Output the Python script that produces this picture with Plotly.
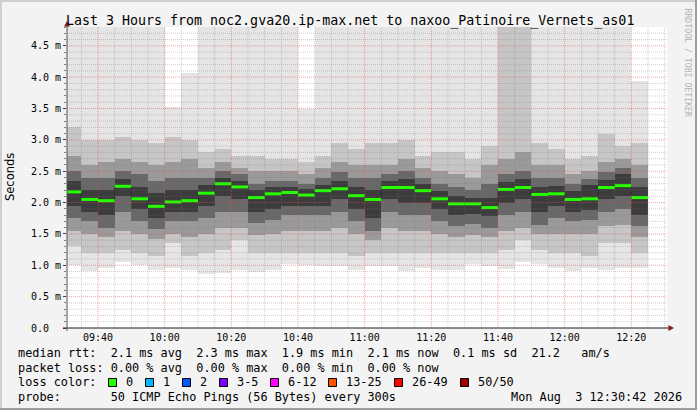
import pandas as pd
import plotly.graph_objects as go

# ---------------- data ----------------
first_end = "2026-08-03 09:35:00"   # end of the first 300 s step
x_start = "2026-08-03 09:30:42"
x_end = "2026-08-03 12:30:42"

medians = [2.17, 2.05, 2.03, 2.26, 2.06, 1.94, 2.01, 2.03, 2.15, 2.30, 2.25, 2.08,
           2.14, 2.16, 2.12, 2.19, 2.22, 2.11, 2.05, 2.24, 2.24, 2.19, 2.06, 1.98,
           1.98, 1.92, 2.21, 2.24, 2.13, 2.14, 2.05, 2.06, 2.24, 2.27, 2.08]
ping_min = [1.00, 0.91, 0.96, 1.06, 1.00, 0.93, 0.96, 0.93, 0.86, 0.87, 0.93, 0.90,
            0.93, 1.02, 1.00, 0.99, 0.99, 0.93, 0.99, 0.99, 0.91, 0.95, 0.93, 0.93,
            1.02, 0.99, 0.94, 1.05, 1.02, 0.96, 0.91, 0.95, 0.93, 0.95, 0.95]
ping_max = [5.5, 5.5, 5.5, 5.5, 5.5, 5.5, 3.53, 4.06, 5.5, 5.5, 5.5, 5.5,
            5.5, 5.5, 3.49, 5.5, 5.5, 5.5, 5.5, 5.5, 5.5, 5.5, 5.5, 5.5,
            5.5, 5.5, 5.5, 5.5, 5.5, 5.5, 5.5, 5.5, 5.5, 5.5, 3.94]
lo5 = [1.30, 1.20, 1.20, 1.25, 1.20, 1.15, 1.35, 1.15, 1.20, 1.25, 1.40, 1.20,
       1.20, 1.20, 1.20, 1.20, 1.20, 1.15, 1.20, 1.20, 1.20, 1.20, 1.20, 1.20,
       1.20, 1.20, 1.25, 1.40, 1.25, 1.20, 1.20, 1.15, 1.35, 1.35, 1.20]
hi5 = [3.20, 3.00, 3.00, 3.05, 3.00, 2.95, 3.05, 3.00, 2.80, 2.85, 2.75, 2.75,
       2.70, 2.70, 2.65, 2.75, 2.95, 2.85, 2.95, 2.95, 3.00, 2.75, 2.80, 2.80,
       2.70, 2.90, 5.50, 5.50, 2.95, 2.85, 2.70, 2.75, 3.10, 2.90, 2.95]
lo10 = [1.55, 1.50, 1.45, 1.55, 1.50, 1.42, 1.50, 1.45, 1.50, 1.60, 1.60, 1.48,
        1.50, 1.55, 1.55, 1.55, 1.60, 1.50, 1.40, 1.60, 1.55, 1.55, 1.50, 1.45,
        1.48, 1.45, 1.55, 1.60, 1.50, 1.50, 1.50, 1.50, 1.62, 1.65, 1.45]
hi10 = [2.75, 2.60, 2.65, 2.70, 2.65, 2.60, 2.65, 2.70, 2.55, 2.65, 2.55, 2.50,
        2.50, 2.50, 2.45, 2.55, 2.65, 2.60, 2.60, 2.60, 2.70, 2.55, 2.50, 2.45,
        2.40, 2.60, 2.70, 2.80, 2.60, 2.60, 2.45, 2.50, 2.65, 2.70, 2.60]
lo15 = [1.75, 1.70, 1.60, 1.85, 1.70, 1.58, 1.70, 1.70, 1.75, 1.85, 1.85, 1.68,
        1.72, 1.80, 1.80, 1.80, 1.85, 1.70, 1.55, 1.85, 1.80, 1.80, 1.70, 1.62,
        1.66, 1.60, 1.80, 1.85, 1.65, 1.75, 1.70, 1.72, 1.85, 1.90, 1.62]
hi15 = [2.50, 2.40, 2.40, 2.50, 2.45, 2.35, 2.40, 2.40, 2.40, 2.50, 2.45, 2.30,
        2.35, 2.35, 2.30, 2.40, 2.48, 2.40, 2.40, 2.45, 2.50, 2.40, 2.30, 2.25,
        2.20, 2.30, 2.45, 2.50, 2.40, 2.40, 2.30, 2.38, 2.48, 2.55, 2.40]
lo20 = [1.95, 1.85, 1.80, 2.10, 1.90, 1.75, 1.85, 1.85, 1.95, 2.10, 2.05, 1.85,
        1.90, 1.95, 1.95, 1.95, 2.05, 1.90, 1.75, 2.05, 2.00, 2.00, 1.90, 1.80,
        1.82, 1.78, 2.00, 2.05, 1.85, 1.95, 1.85, 1.88, 2.05, 2.10, 1.80]
hi20 = [2.35, 2.20, 2.20, 2.38, 2.25, 2.15, 2.20, 2.20, 2.28, 2.40, 2.35, 2.20,
        2.25, 2.25, 2.22, 2.28, 2.35, 2.25, 2.20, 2.35, 2.38, 2.30, 2.18, 2.10,
        2.08, 2.08, 2.33, 2.38, 2.25, 2.27, 2.18, 2.28, 2.36, 2.45, 2.25]

y_tickvals = [0.0, 0.5, 1.0, 1.5, 2.0, 2.5, 3.0, 3.5, 4.0, 4.5]
y_ticktext = ["0.0  ", "0.5 m", "1.0 m", "1.5 m", "2.0 m", "2.5 m", "3.0 m",
              "3.5 m", "4.0 m", "4.5 m"]

title_text = "Last 3 Hours from noc2.gva20.ip-max.net to naxoo_Patinoire_Vernets_as01"
legend_lines = [
    "median rtt:  2.1 ms avg  2.3 ms max  1.9 ms min  2.1 ms now  0.1 ms sd  21.2   am/s",
    "packet loss: 0.00 % avg  0.00 % max  0.00 % min  0.00 % now",
    "loss color:",
    "probe:       50 ICMP Echo Pings (56 Bytes) every 300s",
]
loss_labels = ["0", "1", "2", "3-5", "6-12", "13-25", "26-49", "50/50"]
loss_colors = ["#26ff00", "#00b8ff", "#0059ff", "#7e00ff", "#ff00ff",
               "#ff5500", "#ff0000", "#a10000"]
stamp_text = "Mon Aug  3 12:30:42 2026"
watermark = "RRDTOOL / TOBI OETIKER"

# ---------------- geometry ----------------
W, H = 697, 410
PL, PR, PT, PB = 67, 667, 27, 328
MONO = "DejaVu Sans Mono"


def PX(x):
    return (x - PL) / (PR - PL)


def PY(y):
    return (PB - y) / (PB - PT)


def nb(s):
    return s.replace(" ", "\u00a0")


ends = pd.date_range(first_end, periods=len(medians), freq="5min")
starts = ends - pd.Timedelta(seconds=300)
centers = ends - pd.Timedelta(seconds=150)

fig = go.Figure()

bands = [
    (ping_min, ping_max, "#e5e5e5"),
    (lo5, hi5, "#c6c6c6"),
    (lo10, hi10, "#9a9a9a"),
    (lo15, hi15, "#686868"),
    (lo20, hi20, "#3c3c3c"),
]
for lo, hi, col in bands:
    fig.add_trace(go.Bar(
        x=centers, base=lo, y=[h - l for l, h in zip(lo, hi)],
        width=300000, marker=dict(color=col, line=dict(width=0)),
        showlegend=False, hoverinfo="skip"))

# dark step line of the median
fig.add_trace(go.Scatter(
    x=list(starts) + [ends[-1]], y=medians + [medians[-1]],
    mode="lines", line=dict(color="#202020", width=1, shape="hv"),
    showlegend=False, hoverinfo="skip"))

# green (0 loss) median segments
gx, gy = [], []
for s, e, m in zip(starts, ends, medians):
    gx += [s, e, None]
    gy += [m, m, None]
fig.add_trace(go.Scatter(
    x=gx, y=gy, mode="lines", line=dict(color=loss_colors[0], width=3),
    showlegend=False, hoverinfo="skip"))

shapes = []
# grid (rrdtool draws it over the data)
grid_times = pd.date_range("2026-08-03 09:35:00", "2026-08-03 12:30:00", freq="5min")
for t in grid_times:
    major = (t.minute % 20 == 0)
    shapes.append(dict(type="line", xref="x", yref="paper", x0=t, x1=t, y0=0, y1=1,
                       layer="above",
                       line=dict(color="rgba(222,80,80,0.5)" if major else "rgba(120,120,120,0.35)",
                                 width=1, dash="1px,1px")))
for i in range(1, 48):
    v = round(i / 10, 1)
    major = (i % 5 == 0)
    shapes.append(dict(type="line", xref="paper", yref="y", x0=0, x1=1, y0=v, y1=v,
                       layer="above",
                       line=dict(color="rgba(222,80,80,0.5)" if major else "rgba(120,120,120,0.35)",
                                 width=1, dash="1px,1px")))

# axes lines and arrows
shapes.append(dict(type="line", xref="paper", yref="paper", x0=PX(63), x1=PX(671),
                   y0=PY(328), y1=PY(328), layer="above", line=dict(color="#1f1f1f", width=1)))
shapes.append(dict(type="line", xref="paper", yref="paper", x0=PX(67), x1=PX(67),
                   y0=PY(331), y1=PY(24), layer="above", line=dict(color="#555555", width=1)))
shapes.append(dict(type="path", xref="paper", yref="paper", layer="above",
                   path=f"M {PX(64)} {PY(26.5)} L {PX(70)} {PY(26.5)} L {PX(67)} {PY(21)} Z",
                   fillcolor="#7f1f1f", line=dict(width=0)))
shapes.append(dict(type="path", xref="paper", yref="paper", layer="above",
                   path=f"M {PX(668.5)} {PY(325)} L {PX(668.5)} {PY(331)} L {PX(674)} {PY(328)} Z",
                   fillcolor="#7f1f1f", line=dict(width=0)))

# outer 3D frame
shapes.append(dict(type="rect", xref="paper", yref="paper", x0=PX(0), x1=PX(697),
                   y0=PY(0), y1=PY(2), fillcolor="#cfcfcf", line=dict(width=0), layer="below"))
shapes.append(dict(type="rect", xref="paper", yref="paper", x0=PX(0), x1=PX(2),
                   y0=PY(0), y1=PY(410), fillcolor="#cfcfcf", line=dict(width=0), layer="below"))
shapes.append(dict(type="rect", xref="paper", yref="paper", x0=PX(0), x1=PX(697),
                   y0=PY(408), y1=PY(410), fillcolor="#9e9e9e", line=dict(width=0), layer="below"))
shapes.append(dict(type="rect", xref="paper", yref="paper", x0=PX(695), x1=PX(697),
                   y0=PY(0), y1=PY(410), fillcolor="#9e9e9e", line=dict(width=0), layer="below"))

# loss colour legend squares
sq_x = [108, 145, 182, 219, 270, 328, 394, 460]
annotations = []
for x0, lab, col in zip(sq_x, loss_labels, loss_colors):
    shapes.append(dict(type="rect", xref="paper", yref="paper",
                       x0=PX(x0 + 0.5), x1=PX(x0 + 8.5), y0=PY(378.5), y1=PY(386.5),
                       fillcolor=col, line=dict(color="#000000", width=1)))
    annotations.append(dict(x=PX(x0 + 15.5), y=PY(382), xref="paper", yref="paper",
                            text=nb(lab), showarrow=False, xanchor="left", yanchor="middle",
                            font=dict(family=MONO, size=11.85, color="#000000")))

# text
annotations.append(dict(x=PX(64), y=PY(21.5), xref="paper", yref="paper", text=nb(title_text),
                        showarrow=False, xanchor="left", yanchor="middle",
                        font=dict(family=MONO, size=13.3, color="#000000")))
for yy, line in zip([353, 368, 382, 397], legend_lines):
    annotations.append(dict(x=PX(16), y=PY(yy), xref="paper", yref="paper", text=nb(line),
                            showarrow=False, xanchor="left", yanchor="middle",
                            font=dict(family=MONO, size=11.85, color="#000000")))
annotations.append(dict(x=PX(684), y=PY(397), xref="paper", yref="paper", text=nb(stamp_text),
                        showarrow=False, xanchor="right", yanchor="middle",
                        font=dict(family=MONO, size=11.85, color="#000000")))
annotations.append(dict(x=PX(10), y=PY(177), xref="paper", yref="paper", text="Seconds",
                        showarrow=False, textangle=-90, xanchor="center", yanchor="middle",
                        font=dict(family="DejaVu Sans", size=11.5, color="#000000")))
annotations.append(dict(x=PX(688), y=PY(6), xref="paper", yref="paper", text=nb(watermark),
                        showarrow=False, textangle=90, xanchor="center", yanchor="top",
                        font=dict(family=MONO, size=8.2, color="#b4b4b4")))

fig.update_layout(
    width=W, height=H, autosize=False,
    margin=dict(l=PL, r=W - PR, t=PT, b=H - PB, pad=0),
    paper_bgcolor="#f3f3f3", plot_bgcolor="#ffffff",
    barmode="overlay", bargap=0, showlegend=False,
    shapes=shapes, annotations=annotations,
    xaxis=dict(type="date", range=[x_start, x_end], showgrid=False, zeroline=False,
               showline=False, automargin=False, fixedrange=True,
               tickvals=pd.date_range("2026-08-03 09:40", "2026-08-03 12:20", freq="20min"),
               tickformat="%H:%M", ticks="", ticklabelstandoff=2,
               tickfont=dict(family=MONO, size=10, color="#000000")),
    yaxis=dict(range=[0, 4.8], showgrid=False, zeroline=False, showline=False,
               automargin=False, fixedrange=True,
               tickvals=y_tickvals, ticktext=[nb(t) for t in y_ticktext],
               ticks="outside", ticklen=3, tickcolor="#404040", ticklabelstandoff=0,
               minor=dict(dtick=0.1, ticks="outside", ticklen=2, tickcolor="#808080"),
               tickfont=dict(family=MONO, size=10, color="#000000")),
)

fig.write_html("out.html", config={"displayModeBar": False, "staticPlot": True},
               post_script="document.body.style.margin='0';document.body.style.overflow='hidden';")
